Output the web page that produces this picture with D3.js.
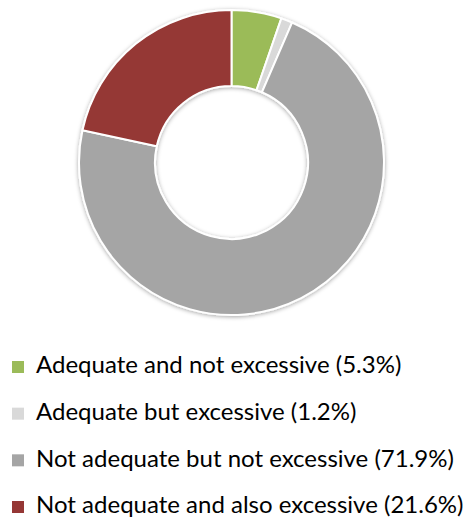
<!DOCTYPE html>
<html>
<head>
<meta charset="utf-8">
<script src="https://cdn.jsdelivr.net/npm/d3@7"></script>
<style>
  html, body { margin: 0; padding: 0; background: #fff; }
  svg { display: block; }
  .legend text { font-family: Lato, "Open Sans", sans-serif; fill: #000; }
</style>
</head>
<body>
<div id="chart"></div>
<script>
var categories = [
  "Adequate and not excessive",
  "Adequate but excessive",
  "Not adequate but not excessive",
  "Not adequate and also excessive"
];
var shares = [5.3, 1.2, 71.9, 21.6];
var sliceColors = ["#9bbb59", "#d9d9d9", "#a5a5a5", "#953735"];

var width = 465,
  height = 519;
var cx = 231.5,
  cy = 162.5,
  outerR = 152.5,
  innerR = 76.5;

var svg = d3
  .select("#chart")
  .append("svg")
  .attr("width", width)
  .attr("height", height);

var defs = svg.append("defs");
var shadow = defs
  .append("filter")
  .attr("id", "shadow")
  .attr("x", "-20%")
  .attr("y", "-20%")
  .attr("width", "140%")
  .attr("height", "140%");
shadow
  .append("feDropShadow")
  .attr("dx", 0)
  .attr("dy", 1)
  .attr("stdDeviation", 2)
  .attr("flood-color", "#000")
  .attr("flood-opacity", 0.35);

var color = d3.scaleOrdinal().domain(categories).range(sliceColors);

var pie = d3
  .pie()
  .sort(null)
  .value((d) => d.value);

var data = categories.map((c, i) => ({ name: c, value: shares[i] }));

var arc = d3.arc().innerRadius(innerR).outerRadius(outerR);

var slices = svg
  .append("g")
  .attr("class", "slices")
  .attr("transform", "translate(" + cx + "," + cy + ")")
  .attr("filter", "url(#shadow)");

slices
  .selectAll("path")
  .data(pie(data))
  .enter()
  .append("path")
  .attr("d", arc)
  .style("fill", (d) => color(d.data.name))
  .style("stroke", "#fff")
  .style("stroke-width", 2)
  .style("stroke-linejoin", "round");

// legend below the donut
var rowY = d3
  .scalePoint()
  .domain(categories)
  .range([373.3, 513.3]);

var legend = svg
  .append("g")
  .attr("class", "legend")
  .selectAll("g")
  .data(data)
  .enter()
  .append("g")
  .attr("transform", (d) => "translate(0," + rowY(d.name) + ")");

legend
  .append("rect")
  .attr("x", 12)
  .attr("y", -12.3)
  .attr("width", 12)
  .attr("height", 12)
  .style("fill", (d) => color(d.name));

legend
  .append("text")
  .attr("x", 36)
  .attr("y", 0)
  .style("font-size", "24px")
  .text((d) => d.name + " (" + d.value.toFixed(1) + "%)");
</script>
</body>
</html>
